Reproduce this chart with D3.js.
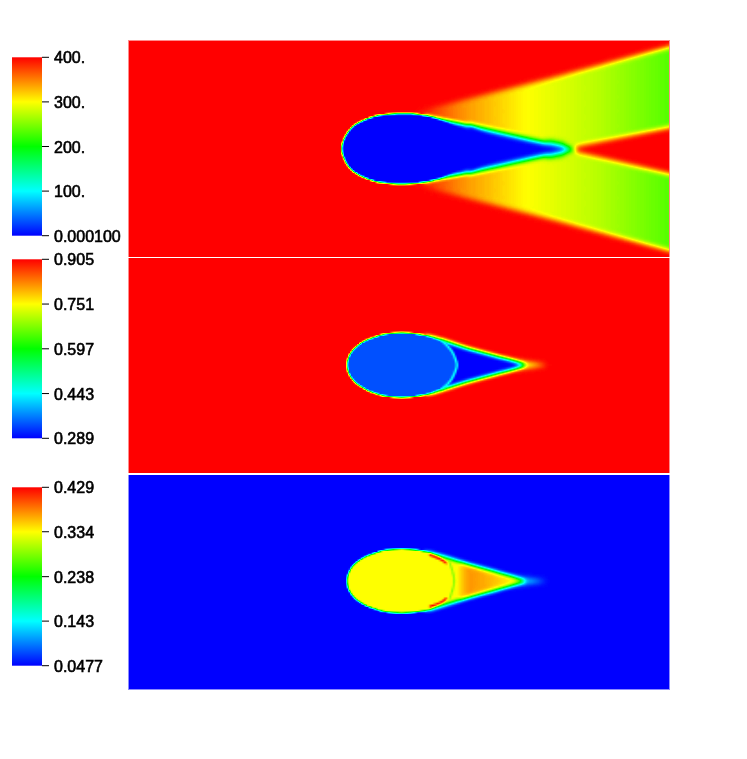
<!DOCTYPE html>
<html><head><meta charset="utf-8">
<script src="https://cdn.jsdelivr.net/npm/d3@7"></script>
<style>
html,body{margin:0;padding:0;background:#fff;width:747px;height:759px;overflow:hidden}
#wrap{position:relative;width:747px;height:759px}
canvas,.edge{position:absolute}
svg{position:absolute;left:0;top:0}
.tick text{font-family:"Liberation Sans",Arial,sans-serif;font-size:16px;fill:#000;stroke:#000;stroke-width:.6px}
</style></head><body><div id="wrap"></div>
<script>
// ---------- colour map ----------
const rainbowStops = [0, 0.25, 0.5, 0.75, 1];
const rainbowColours = ["#0000ff", "#00ffff", "#00ff00", "#ffff00", "#ff0000"];

// ---------- colour-bar tick values and labels ----------
const ticksTemperature = [0.0001, 100, 200, 300, 400];
const labelsTemperature = ["0.000100", "100.", "200.", "300.", "400."];
const ticksDensity = [0.289, 0.443, 0.597, 0.751, 0.905];
const labelsDensity = ["0.289", "0.443", "0.597", "0.751", "0.905"];
const ticksFraction = [0.0477, 0.143, 0.238, 0.334, 0.429];
const labelsFraction = ["0.0477", "0.143", "0.238", "0.334", "0.429"];

// ---------- field shapes (grid x, grid y from wake axis) ----------
const fanOutline = [[284,36],[420,70],[560,107],[560,-107],[420,-70],[284,-36]];
const fanValues = [[284,400],[310,368],[334,342],[398,300],[470,272],[541,232]];
const wedgeOutline = [[443,-0.5],[450,-4],[560,-30],[560,25.5],[450,3]];
const throatOutline = [[418,9],[436,6],[436,-7],[418,-10]];
const tailOutline = [[296,32.5],[306,30.5],[334,24.7],[345,20],[360,11],[372,0],[360,-11.5],[345,-20.5],[334,-25],[306,-30.5],[296,-32.5]];
const farTailOutline = [[338,24],[368,17],[401,9],[430,3],[447,-0.5],[430,-4],[401,-10],[368,-18],[338,-24.5]];
const noseOutline = [[212.7,0],[216,12],[222.7,21.5],[232.7,27.6],[246,32.5],[262.7,34.7],[276,35.2],[289,34.4],[306,31],[322,25],[345,12],[360,0],[345,-12],[322,-25],[306,-31],[289,-34.4],[276,-35.2],[262.7,-34.7],[246,-32.5],[232.7,-27.6],[222.7,-21.5],[216,-12]];

const tearOutline = [[296,29],[303,27.9],[316,24],[339,16.7],[366,9.5],[385,4],[397,0],[385,-4],[366,-9.5],[339,-16.7],[316,-24],[303,-27.9],[296,-29]];
const coreOutline = [[218,0],[221,11],[228,19],[240,26],[256,31],[273,32.3],[289,31],[303,27.5],[316,21],[324,12],[328,0],[324,-12],[316,-21],[303,-27.5],[289,-31],[273,-32.3],[256,-31],[240,-26],[228,-19],[221,-11]];
const shockArc = [[313,24],[322,15],[326.5,6],[328,0],[326.5,-6],[322,-15],[313,-24]];
const wakeFade = [[372,6],[418,0],[372,-6]];
const triangleOutline = [[330,17.5],[386,0],[330,-17.5]];
const triangleValues = [[330,0.345],[340,0.373],[360,0.362],[386,0.336]];
const redArcUpper = [[301,26],[312,21.5],[317,18]];
const redArcLower = [[301,-25.5],[312,-21.5],[317,-17.5]];
const greenArc = [[321,18],[325,3],[325,-3],[321,-17]];

// ---------- field values ----------
const fieldRanges = {t:[0.0001,400], d:[0.289,0.905], f:[0.0477,0.429]};
const freeValues = {t:400, d:0.905, f:0.0477};

const wrap = d3.select("#wrap");
const colourOf = d3.scaleLinear().domain(rainbowStops).range(rainbowColours).interpolate(d3.interpolateRgb);
const CELL = 1.8, PAD = 16;
const lut = d3.range(256).map(i=>d3.rgb(colourOf(i/255)));

function field(panel){
  const cols = Math.ceil(panel.w/CELL), rows = Math.ceil(panel.h/CELL);
  const off = document.createElement("canvas");
  off.width = cols+2*PAD; off.height = rows+2*PAD;
  const ctx = off.getContext("2d",{willReadFrequently:true});
  const x = d3.scaleLinear([0,panel.w],[PAD,PAD+panel.w/CELL]);
  const y = d3.scaleLinear([panel.y0,panel.y0-panel.h],[PAD,PAD+panel.h/CELL]);
  const gray = d3.scaleLinear(panel.range,[0,255]);
  const shade = v=>{const g=Math.round(gray(v));return `rgb(${g},${g},${g})`;};
  ctx.fillStyle = shade(panel.free); ctx.fillRect(0,0,off.width,off.height);
  panel.layers.forEach(l=>{
    ctx.filter = `blur(${l.blur/CELL}px)`;
    const line = d3.line().x(d=>x(d[0])).y(d=>y(d[1])).curve(l.curve||d3.curveLinearClosed).context(ctx);
    let paint;
    if(l.stops){
      const s0=l.stops[0][0], s1=l.stops[l.stops.length-1][0];
      paint = ctx.createLinearGradient(x(s0),0,x(s1),0);
      l.stops.forEach(s=>paint.addColorStop((s[0]-s0)/(s1-s0),shade(s[1])));
    } else paint = shade(l.value);
    ctx.beginPath(); line(l.pts);
    if(l.width){ctx.strokeStyle=paint;ctx.lineWidth=l.width/CELL;ctx.lineCap="round";ctx.stroke();}
    else {ctx.fillStyle=paint;ctx.fill();}
  });
  ctx.filter="none";
  // interpolate the scalar field up to screen pixels, then apply the colour map
  const hi = document.createElement("canvas");
  hi.width = panel.w; hi.height = Math.ceil(panel.h);
  const hc = hi.getContext("2d",{willReadFrequently:true});
  hc.imageSmoothingEnabled = true; hc.imageSmoothingQuality = "medium";
  hc.drawImage(off,-PAD*CELL,-PAD*CELL,off.width*CELL,off.height*CELL);
  const src = hc.getImageData(0,0,hi.width,hi.height);
  // pale anti-aliased rim of the panel
  wrap.append("div").attr("class","edge")
    .style("left",(panel.left-1)+"px").style("top",(panel.top-panel.padTop)+"px")
    .style("width",(panel.w+2)+"px").style("height",(hi.height+panel.padTop+panel.padBottom)+"px")
    .style("background",lut[Math.round(gray(panel.free))].formatHex()).style("opacity",0.45);
  const cv = wrap.append("canvas").attr("width",hi.width).attr("height",hi.height)
    .style("left",panel.left+"px").style("top",panel.top+"px");
  const oc = cv.node().getContext("2d");
  const out = oc.createImageData(hi.width,hi.height);
  for(let i=0;i<src.data.length;i+=4){
    const c=lut[src.data[i]];
    out.data[i]=c.r;out.data[i+1]=c.g;out.data[i+2]=c.b;out.data[i+3]=255;
  }
  oc.putImageData(out,0,0);
}

const smooth = d3.curveCatmullRomClosed, open = d3.curveCatmullRom;
field({left:129,top:41,w:540,h:216,y0:107.75,padTop:1,padBottom:0,range:fieldRanges.t,free:freeValues.t,layers:[
  {pts:fanOutline,stops:fanValues,blur:2.4},
  {pts:throatOutline,value:190,blur:3},
  {pts:wedgeOutline,value:400,blur:2.6},
  {pts:farTailOutline,value:0.0001,blur:3.2},
  {pts:tailOutline,value:0.0001,blur:1.5},
  {pts:noseOutline,value:0.0001,blur:0.3,curve:smooth}
]});
field({left:129,top:258,w:540,h:215,y0:107,padTop:0,padBottom:0,range:fieldRanges.d,free:freeValues.d,layers:[
  {pts:wakeFade,value:0.7,blur:3},
  {pts:tearOutline,value:0.289,blur:2.1},
  {pts:coreOutline,value:0.337,blur:0.3,curve:smooth},
  {pts:shockArc,value:0.46,blur:1,width:2.2,curve:open}
]});
field({left:129,top:475,w:540,h:214,y0:106,padTop:0,padBottom:1,range:fieldRanges.f,free:freeValues.f,layers:[
  {pts:wakeFade,value:0.14,blur:3},
  {pts:tearOutline,value:0.334,blur:2.1},
  {pts:triangleOutline,stops:triangleValues,blur:1.8},
  {pts:coreOutline,value:0.334,blur:0.3,curve:smooth},
  {pts:greenArc,value:0.27,blur:0.6,width:1.6,curve:open},
  {pts:redArcUpper,value:0.429,blur:0.6,width:2.2,curve:open},
  {pts:redArcLower,value:0.429,blur:0.6,width:2.2,curve:open}
]});

// ---------- colour bars ----------
const svg = wrap.append("svg").attr("width",747).attr("height",759);
const defs = svg.append("defs");
const grad = defs.append("linearGradient").attr("id","rainbow").attr("x1",0).attr("x2",0).attr("y1",1).attr("y2",0);
grad.selectAll("stop").data(rainbowStops).join("stop")
  .attr("offset",d=>d).attr("stop-color",(d,i)=>rainbowColours[i]);

function colourBar(ticks,labels,y0,y1){
  const s = d3.scaleLinear([ticks[0],ticks[4]],[y0,y1]);
  svg.append("rect").attr("x",12).attr("y",y1).attr("width",30).attr("height",y0-y1).attr("fill","url(#rainbow)");
  const axis = d3.axisRight(s).tickValues(ticks).tickSize(7).tickPadding(5).offset(0)
    .tickFormat((d,i)=>labels[i]);
  const g = svg.append("g").attr("transform","translate(42,0)").call(axis);
  g.select(".domain").remove();
  g.selectAll(".tick line").attr("stroke","#000");
  g.selectAll(".tick text").attr("dy","0.38em");
}
colourBar(ticksTemperature,labelsTemperature,235.7,57.3);
colourBar(ticksDensity,labelsDensity,438.3,259.3);
colourBar(ticksFraction,labelsFraction,665.7,487.3);
</script></body></html>
